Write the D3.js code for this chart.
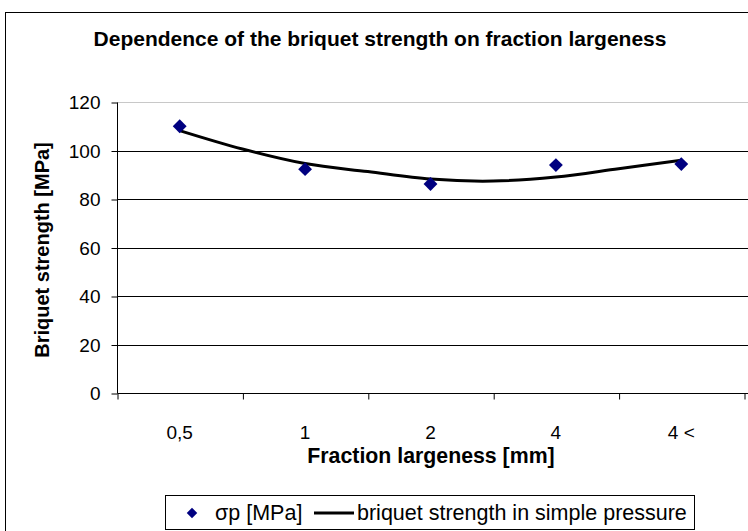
<!DOCTYPE html>
<html>
<head>
<meta charset="utf-8">
<script src="https://cdn.jsdelivr.net/npm/d3@7"></script>
<style>
    body { margin: 0; background: #fff; }
    text { font-family: "Liberation Sans", Arial, sans-serif; fill: #000; }
</style>
</head>
<body>
<div id="chart"></div>
<script>
(function() {

    // categories on the x axis
    var categories = ["0,5", "1", "2", "4", "4 <"];

    // measured briquet strength, one per category
    var strength = [110, 92.3, 86.2, 94, 94.4];

    // trend line at half-category steps
    var trendIndex = [0, 0.5, 1, 1.5, 2, 2.5, 3, 3.5, 4];
    var trendValue = [108.2, 100.6, 94.6, 91.3, 88.2, 87.4, 89.1, 92.5, 96.0];

    var yTicks = [0, 20, 40, 60, 80, 100, 120];

    var w = 748, h = 531;
    var left = 117, right = 744, top = 102, bottom = 393;

    var svg = d3.select("#chart").append("svg")
        .attr("width", w)
        .attr("height", h);

    // outer chart border (cropped at right and bottom)
    svg.append("rect")
        .attr("x", 5.5)
        .attr("y", 12.5)
        .attr("width", 800)
        .attr("height", 600)
        .style("fill", "none")
        .style("stroke", "#000")
        .style("stroke-width", 1);

    // scales
    var x = d3.scaleLinear().domain([-0.5, categories.length - 0.5]).range([left, right]);
    var y = d3.scaleLinear().domain([0, 120]).range([bottom, top]);

    // gridlines
    svg.append("g")
        .selectAll("line")
        .data(yTicks.filter(function(d) { return d > 0; }))
        .enter().append("line")
        .attr("x1", left)
        .attr("x2", w)
        .attr("y1", function(d) { return Math.round(y(d)) + 0.5; })
        .attr("y2", function(d) { return Math.round(y(d)) + 0.5; })
        .style("stroke", function(d) { return d === 120 ? "#c8c8c8" : "#000"; })
        .style("stroke-width", 1);

    // y axis
    var yAxis = svg.append("g")
        .attr("transform", "translate(" + (left + 0.5) + ",0.5)")
        .call(d3.axisLeft(y).tickValues(yTicks).tickSize(6).tickPadding(11).tickSizeOuter(0));
    yAxis.selectAll("text")
        .style("font-size", "19px")
        .style("font-family", '"Liberation Sans", Arial, sans-serif');
    yAxis.select(".domain").attr("d", "M0," + y(120) + "V" + y(0));

    // x axis with ticks between categories
    var boundaries = d3.range(-0.5, categories.length, 1);
    var xAxis = svg.append("g")
        .attr("transform", "translate(0.5," + (bottom + 0.5) + ")")
        .call(d3.axisBottom(x).tickValues(boundaries).tickSize(6).tickFormat("").tickSizeOuter(0));
    xAxis.select(".domain").attr("d", "M" + left + ",0H" + w);

    // category labels
    svg.append("g")
        .selectAll("text")
        .data(categories)
        .enter().append("text")
        .attr("x", function(d, i) { return x(i); })
        .attr("y", 439)
        .attr("text-anchor", "middle")
        .style("font-size", "19px")
        .text(function(d) { return d; });

    // title and axis titles
    svg.append("text")
        .attr("x", 380)
        .attr("y", 46)
        .attr("text-anchor", "middle")
        .style("font-size", "21px")
        .style("font-weight", "bold")
        .text("Dependence of the briquet strength on fraction largeness");

    svg.append("text")
        .attr("x", 431)
        .attr("y", 463)
        .attr("text-anchor", "middle")
        .style("font-size", "21.3px")
        .style("font-weight", "bold")
        .text("Fraction largeness [mm]");

    svg.append("text")
        .attr("transform", "translate(49,250) rotate(-90)")
        .attr("text-anchor", "middle")
        .style("font-size", "20px")
        .style("font-weight", "bold")
        .text("Briquet strength [MPa]");

    // trend line
    var line = d3.line()
        .x(function(d) { return x(d[0]); })
        .y(function(d) { return y(d[1]); })
        .curve(d3.curveCatmullRom);

    svg.append("path")
        .datum(trendIndex.map(function(d, i) { return [d, trendValue[i]]; }))
        .attr("d", line)
        .style("fill", "none")
        .style("stroke", "#000")
        .style("stroke-width", 3);

    // data points
    var diamond = d3.symbol().type(d3.symbolDiamond2).size(122);

    svg.append("g")
        .selectAll("path")
        .data(strength)
        .enter().append("path")
        .attr("d", diamond)
        .attr("transform", function(d, i) { return "translate(" + x(i) + "," + y(d) + ")"; })
        .style("fill", "#000080");

    // legend
    var legend = svg.append("g");
    legend.append("rect")
        .attr("x", 165.5)
        .attr("y", 495.5)
        .attr("width", 529)
        .attr("height", 34)
        .style("fill", "#fff")
        .style("stroke", "#000")
        .style("stroke-width", 1);
    legend.append("path")
        .attr("d", d3.symbol().type(d3.symbolDiamond2).size(70))
        .attr("transform", "translate(192,513)")
        .style("fill", "#000080");
    legend.append("text")
        .attr("x", 215)
        .attr("y", 520)
        .style("font-size", "21.5px")
        .text("σp [MPa]");
    legend.append("line")
        .attr("x1", 314)
        .attr("x2", 354)
        .attr("y1", 513)
        .attr("y2", 513)
        .style("stroke", "#000")
        .style("stroke-width", 3);
    legend.append("text")
        .attr("x", 357)
        .attr("y", 520)
        .style("font-size", "21.5px")
        .text("briquet strength in simple pressure");

})();
</script>
</body>
</html>
